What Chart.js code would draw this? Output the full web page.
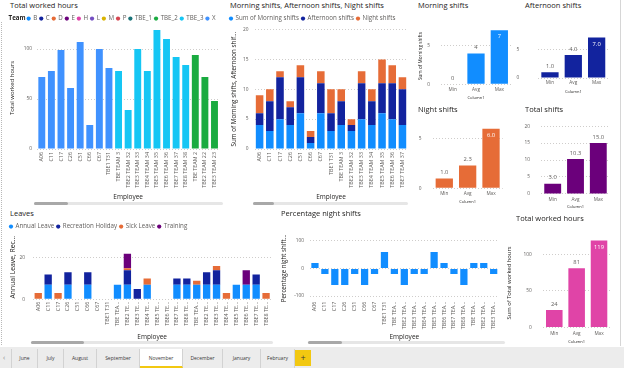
<!DOCTYPE html>
<html>
<head>
<meta charset="utf-8">
<script src="https://cdn.jsdelivr.net/npm/chart.js@4.4.1/dist/chart.umd.min.js"></script>
<style>
  html, body { margin:0; padding:0; background:#ffffff; }
  #page { position:relative; width:624px; height:368px; overflow:hidden; background:#ffffff; font-family:'Segoe UI','Open Sans',sans-serif; }
  #page canvas { position:absolute; }
  .ttl { position:absolute; font-size:7.5px; line-height:10px; height:10px; color:#252423; white-space:nowrap; }
  .sb { position:absolute; height:3px; background:#e6e6e6; border-radius:1.5px; }
  .sb b { position:absolute; left:0; top:0; height:3px; background:#a8a8a8; border-radius:1.5px; }
  #tabs { position:absolute; left:0; top:347px; width:624px; height:21px; background:#ececec; }
  .tab { position:absolute; top:2px; height:19px; line-height:18px; font-size:5px; color:#3b3a39; text-align:center; border-right:1px solid #d2d2d2; box-sizing:border-box; }
  .tab.on { background:#ffffff; border-bottom:2px solid #F2C811; }
  #plus { position:absolute; left:295px; top:3px; width:16px; height:16px; background:#F2C811; color:#3b3a39; font-size:9px; line-height:16px; text-align:center; }
  #arrow { position:absolute; left:3px; top:2px; height:19px; line-height:18px; font-size:7px; color:#888; }
  #leftline { position:absolute; left:1px; top:22px; width:0; height:323px; border-left:1px dotted #b8b8b8; }
  #rightline { position:absolute; left:620px; top:0px; width:0; height:346px; border-left:1px solid #d6d6d6; }
</style>
</head>
<body>
<div id="page">
  <div id="leftline"></div>
  <div id="rightline"></div>

  <canvas id="cHours" width="224" height="188" style="left:0px;top:13px"></canvas>
  <canvas id="cShifts" width="185" height="188" style="left:227px;top:13px"></canvas>
  <canvas id="cMorning" width="99" height="86" style="left:414px;top:14px"></canvas>
  <canvas id="cAfternoon" width="100" height="86" style="left:513px;top:14px"></canvas>
  <canvas id="cNight" width="100" height="91" style="left:412px;top:113px"></canvas>
  <canvas id="cTotalShifts" width="100" height="97" style="left:513px;top:112px"></canvas>
  <canvas id="cLeaves" width="268" height="120" style="left:7px;top:221px"></canvas>
  <canvas id="cPct" width="230" height="109" style="left:276px;top:232px"></canvas>
  <canvas id="cHoursStats" width="110" height="120" style="left:505px;top:224px"></canvas>

  <div class="ttl" style="left:10px;top:0px">Total worked hours</div>
  <div class="ttl" style="left:230px;top:0px">Morning shifts, Afternoon shifts, Night shifts</div>
  <div class="ttl" style="left:418px;top:0px">Morning shifts</div>
  <div class="ttl" style="left:525px;top:0px">Afternoon shifts</div>
  <div class="ttl" style="left:418px;top:104px">Night shifts</div>
  <div class="ttl" style="left:525px;top:104px">Total shifts</div>
  <div class="ttl" style="left:10px;top:208px;color:#252423">Leaves</div>
  <div class="ttl" style="left:281px;top:208px">Percentage night shifts</div>
  <div class="ttl" style="left:516px;top:213px">Total worked hours</div>

  <div class="sb" style="left:34px;top:202px;width:189px"><b style="width:34px"></b></div>
  <div class="sb" style="left:253px;top:202px;width:155px"><b style="width:21px"></b></div>
  <div class="sb" style="left:31px;top:341px;width:242px"><b style="width:53px"></b></div>
  <div class="sb" style="left:308px;top:341px;width:197px"><b style="width:34px"></b></div>

  <div id="tabs">
    <div id="arrow">&#8249;</div>
    <div class="tab" style="left:11px;width:27px;border-left:1px solid #d2d2d2">June</div>
    <div class="tab" style="left:38px;width:26px">July</div>
    <div class="tab" style="left:64px;width:33px">August</div>
    <div class="tab" style="left:97px;width:43px">September</div>
    <div class="tab on" style="left:140px;width:43px">November</div>
    <div class="tab" style="left:183px;width:40px">December</div>
    <div class="tab" style="left:223px;width:38px">January</div>
    <div class="tab" style="left:261px;width:34px">February</div>
    <div id="plus">+</div>
  </div>
</div>

<script>
// ---------------- data ----------------
const employees = ['A06','C11','C17','C26','C51','C66','C67','TBE1 T31','TBE TEAM 3','TBE2 TEAM 32','TBE3 TEAM 33','TBE4 TEAM 34','TBE5 TEAM 35','TBE6 TEAM 36','TBE7 TEAM 37','TBE8 TEAM 38','TBE TEAM 2','TBE2 TEAM 22','TBE3 TEAM 23'];
const employeeTeams = ['X','X','X','X','X','X','X','X','TBE_3','TBE_3','TBE_3','TBE_3','TBE_3','TBE_3','TBE_3','TBE_3','TBE_2','TBE_2','TBE_2'];
const totalWorkedHours = [72,78,99,61,107,24,100,81,78,39,100,78,119,110,92,84,94,72,48];
const teams = ['B','C','D','E','H','L','M','P','TBE_1','TBE_2','TBE_3','X'];

// visible (scrolled) part of the shifts visual
const shiftEmployees = employees.slice(0, 15);
const morningShifts   = [4,3,5,4,6,1,6,3,4,3,5,4,6,5,4];
const afternoonShifts = [2,5,7,3,6,1,5,3,4,1,6,4,5,6,6];
const nightShifts     = [3,2,1,1,2,1,2,4,2,1,2,2,4,3,2];

const statCategories   = ['Min','Avg','Max'];
const morningStats     = [0, 4, 7];
const afternoonStats   = [1, 4, 7];
const nightStats       = [1, 2.3, 6];
const totalShiftStats  = [3, 10.3, 15];
const workedHoursStats = [24, 81, 119];

const leaveEmployees    = employees.concat(['TBE4 TEAM 24','TBE5 TEAM 25','TBE6 TEAM 26','TBE7 TEAM 27','TBE8 TEAM 28']);
const annualLeave       = [0,7,0,7,0,7,0,0,7,7,0,7,0,0,7,7,7,7,7,0,7,7,7,0];
const recreationHoliday = [0,5,0,6,0,6,0,0,0,7,5,0,0,0,3,3,0,6,7,0,0,0,5,0];
const sickLeave         = [3,0,3,0,0,0,0,0,0,1,0,3,0,0,0,0,2,0,2,3,0,0,0,3];
const training          = [0,0,0,0,0,0,0,0,0,7,0,0,0,0,0,0,0,0,0,0,0,7,0,0];

const nightShiftPct = [20,-20,-60,-60,-20,-60,-20,60,-20,-60,-20,-20,60,20,-20,-60,20,20,-20];

// ---------------- styling ----------------
const FONT = "'Segoe UI','Open Sans',sans-serif";
const teamColors = ['#118DFF','#12239E','#E66C37','#6B007B','#E044A7','#744EC2','#D9B300','#D64550','#197278','#1AAB40','#15C6F4','#4092FF'];
const C_BLUE = '#118DFF', C_NAVY = '#12239E', C_ORANGE = '#E66C37', C_PURPLE = '#6B007B', C_PINK = '#E044A7';
const GRID = '#CFCDCB', TICK = '#605E5C', DARK = '#252423';
const LEG = 6.2, YT = 4.8, XR = 5.4, XC = 4.7, DL = 5.8;

Chart.defaults.font.family = FONT;
Chart.defaults.color = TICK;
Chart.defaults.animation = false;

const mctx = document.createElement('canvas').getContext('2d');
function shorten(labels, fontPx, ref) {
  mctx.font = fontPx + 'px ' + FONT;
  const budget = mctx.measureText(ref).width + 0.01;
  return labels.map(l => {
    if (mctx.measureText(l).width <= budget) return l;
    let t = l;
    while (t.length > 1 && mctx.measureText(t.trimEnd() + '...').width > budget) t = t.slice(0, -1);
    return t.trimEnd() + '...';
  });
}

const barLabels = {
  id: 'barLabels',
  afterDatasetsDraw(chart, args, opts) {
    if (!opts || !opts.format) return;
    const ctx = chart.ctx, area = chart.chartArea;
    const meta = chart.getDatasetMeta(0), ds = chart.data.datasets[0];
    ctx.save();
    ctx.font = DL + 'px ' + FONT;
    ctx.textAlign = 'center'; ctx.textBaseline = 'middle';
    meta.data.forEach((bar, i) => {
      const txt = opts.format(ds.data[i]);
      if (bar.y - 11 < area.top) { ctx.fillStyle = '#ffffff'; ctx.fillText(txt, bar.x, bar.y + 6.5); }
      else { ctx.fillStyle = TICK; ctx.fillText(txt, bar.x, bar.y - 6); }
    });
    ctx.restore();
  }
};

const legendLead = {
  id: 'legendLead',
  afterDraw(chart, args, opts) {
    if (!opts || !opts.text || !chart.legend || !chart.legend.legendHitBoxes.length) return;
    const hb = chart.legend.legendHitBoxes[0];
    const fs = opts.size, bw = opts.boxWidth;
    const ctx = chart.ctx;
    ctx.save();
    ctx.font = 'bold ' + fs + 'px ' + FONT;
    ctx.fillStyle = DARK; ctx.textBaseline = 'middle'; ctx.textAlign = 'left';
    ctx.fillText(opts.text, hb.left + bw + fs / 2, hb.top + fs / 2);
    ctx.restore();
  }
};

function yAxis(o) {
  return {
    stacked: !!o.stacked, min: o.min, max: o.max,
    ticks: { stepSize: o.step, includeBounds: false, padding: o.tickPad, font: { size: YT }, color: TICK },
    grid: { color: GRID, drawTicks: false, lineWidth: 1 },
    border: { display: false, dash: [1, 2] },
    title: { display: !!o.title, text: o.title || '', color: DARK, font: { size: o.titleSize || 6 }, padding: { top: o.titlePad || 0, bottom: 0 } },
    afterFit: s => { s.width = o.width; }
  };
}
function xAxis(o) {
  return {
    stacked: !!o.stacked,
    grid: { display: false, drawTicks: false }, border: { display: false },
    ticks: { autoSkip: false, maxRotation: o.rot, minRotation: o.rot, padding: o.tickPad, font: { size: o.tickSize }, color: TICK },
    title: { display: true, text: o.title, color: DARK, font: { size: o.titleSize }, padding: { top: 0, bottom: 0 } },
    afterFit: s => { s.height = o.height; }
  };
}
const legendLabels = { usePointStyle: true, pointStyle: 'circle', boxWidth: 3, boxHeight: 3, padding: 2.5, font: { size: LEG }, color: TICK };

// ---------------- Total worked hours by employee ----------------
new Chart(document.getElementById('cHours'), {
  type: 'bar',
  data: {
    labels: employees,
    datasets: teams.map((t, k) => ({
      label: t,
      data: totalWorkedHours.map((v, i) => employeeTeams[i] === t ? v : null),
      backgroundColor: teamColors[k], barPercentage: 0.72, categoryPercentage: 1
    }))
  },
  options: {
    responsive: false, animation: false, events: [],
    layout: { padding: { left: 0, right: 1, top: 0, bottom: 0 } },
    plugins: {
      tooltip: { enabled: false },
      legend: {
        position: 'top', align: 'start', maxHeight: 14,
        labels: Object.assign({}, legendLabels, {
          generateLabels: () => [{ text: 'Team', fillStyle: 'rgba(0,0,0,0)', strokeStyle: 'rgba(0,0,0,0)', lineWidth: 0, fontColor: 'rgba(0,0,0,0)', pointStyle: 'circle', hidden: false }]
            .concat(teams.map((t, k) => ({ text: t, fillStyle: teamColors[k], strokeStyle: teamColors[k], lineWidth: 0, fontColor: TICK, pointStyle: 'circle', hidden: false, datasetIndex: k })))
        })
      },
      legendLead: { text: 'Team', size: LEG, boxWidth: 3 }
    },
    scales: {
      x: xAxis({ stacked: true, rot: 90, tickPad: 3, tickSize: XR, title: 'Employee', titleSize: 6.5, height: 52 }),
      y: yAxis({ stacked: true, min: 0, max: 122, step: 50, tickPad: 5, width: 37, title: 'Total worked hours', titleSize: 6, titlePad: 8.4 })
    }
  },
  plugins: [legendLead]
});

// ---------------- Morning / Afternoon / Night shifts ----------------
new Chart(document.getElementById('cShifts'), {
  type: 'bar',
  data: {
    labels: shiftEmployees,
    datasets: [
      { label: 'Sum of Morning shifts', data: morningShifts, backgroundColor: C_BLUE },
      { label: 'Afternoon shifts', data: afternoonShifts, backgroundColor: C_NAVY },
      { label: 'Night shifts', data: nightShifts, backgroundColor: C_ORANGE }
    ].map(d => Object.assign(d, { barPercentage: 0.74, categoryPercentage: 1 }))
  },
  options: {
    responsive: false, animation: false, events: [],
    layout: { padding: { left: 0, right: 2.5, top: 0, bottom: 0 } },
    plugins: {
      tooltip: { enabled: false },
      legend: { position: 'top', align: 'start', maxHeight: 16.5, labels: legendLabels }
    },
    scales: {
      x: xAxis({ stacked: true, rot: 90, tickPad: 3, tickSize: XR, title: 'Employee', titleSize: 6.5, height: 52 }),
      y: yAxis({ stacked: true, min: 0, max: 20, step: 5, tickPad: 6, width: 27.5, title: 'Sum of Morning shifts, Afternoon shif\u2026', titleSize: 6.3, titlePad: 3.7 })
    }
  }
});

// ---------------- Min / Avg / Max cards ----------------
function statChart(id, values, color, o) {
  return new Chart(document.getElementById(id), {
    type: 'bar',
    data: { labels: statCategories, datasets: [{ data: values, backgroundColor: color, barPercentage: 0.74, categoryPercentage: 1 }] },
    options: {
      responsive: false, animation: false, events: [],
      layout: { padding: { top: o.padTop, right: o.padRight, left: 0, bottom: 0 } },
      plugins: { legend: { display: false }, tooltip: { enabled: false }, barLabels: { format: o.fmt } },
      scales: {
        x: xAxis({ rot: 0, tickPad: o.xPad, tickSize: XC, title: 'Column1', titleSize: 4, height: o.xH }),
        y: yAxis({ min: 0, max: o.max, step: o.step, tickPad: o.yPad, width: o.yW, title: o.yTitle, titleSize: o.yTitleSize, titlePad: o.yTitlePad })
      }
    },
    plugins: [barLabels]
  });
}
const fmt0 = v => String(v);
const fmt1 = v => v.toFixed(1);
statChart('cMorning', morningStats, C_BLUE, { padTop: 8, padRight: 2, max: 7.3, step: 5, yW: 27, yPad: 11, xH: 15.7, xPad: 2.2, fmt: fmt0, yTitle: 'Sum of Morning shifts', yTitleSize: 4.7, yTitlePad: 4.2 });
statChart('cAfternoon', afternoonStats, C_NAVY, { padTop: 8, padRight: 4.7, max: 7.3, step: 5, yW: 25.3, yPad: 19, xH: 15.7, xPad: 2.2, fmt: fmt1 });
statChart('cNight', nightStats, C_ORANGE, { padTop: 4, padRight: 9.3, max: 6.2, step: 5, yW: 20.6, yPad: 11, xH: 15.7, xPad: 2.9, fmt: fmt1 });
statChart('cTotalShifts', totalShiftStats, C_PURPLE, { padTop: 7.3, padRight: 3.3, max: 20, step: 5, yW: 28.3, yPad: 11.3, xH: 15.1, xPad: 2.5, fmt: fmt1 });
statChart('cHoursStats', workedHoursStats, C_PINK, { padTop: 4, padRight: 4.8, max: 122, step: 50, yW: 38.1, yPad: 11.4, xH: 16.4, xPad: 2.8, fmt: fmt0, yTitle: 'Sum of Total worked hours', yTitleSize: 5.8, yTitlePad: 0.5 });

// ---------------- Leaves ----------------
new Chart(document.getElementById('cLeaves'), {
  type: 'bar',
  data: {
    labels: shorten(leaveEmployees, XR, 'TBE TEA...'),
    datasets: [
      { label: 'Annual Leave', data: annualLeave, backgroundColor: C_BLUE },
      { label: 'Recreation Holiday', data: recreationHoliday, backgroundColor: C_NAVY },
      { label: 'Sick Leave', data: sickLeave, backgroundColor: C_ORANGE },
      { label: 'Training', data: training, backgroundColor: C_PURPLE }
    ].map(d => Object.assign(d, { barPercentage: 0.74, categoryPercentage: 1 }))
  },
  options: {
    responsive: false, animation: false, events: [],
    layout: { padding: { left: 0, right: 2.7, top: 0, bottom: 0 } },
    plugins: {
      tooltip: { enabled: false },
      legend: { position: 'top', align: 'start', maxHeight: 14, labels: legendLabels }
    },
    scales: {
      x: xAxis({ stacked: true, rot: 90, tickPad: 2.4, tickSize: XR, title: 'Employee', titleSize: 6.5, height: 41.7 }),
      y: yAxis({ stacked: true, min: 0, max: 31, step: 20, tickPad: 8.3, width: 26.3, title: 'Annual Leave, Rec...', titleSize: 6.8, titlePad: 1.9 })
    }
  }
});

// ---------------- Percentage night shifts ----------------
new Chart(document.getElementById('cPct'), {
  type: 'bar',
  data: {
    labels: shorten(employees, XR, 'TBE2 TEA...'),
    datasets: [{ label: 'Percentage night shifts', data: nightShiftPct, backgroundColor: C_BLUE, barPercentage: 0.73, categoryPercentage: 1 }]
  },
  options: {
    responsive: false, animation: false, events: [],
    layout: { padding: { left: 0, right: 5.3, top: 6.7, bottom: 0 } },
    plugins: { tooltip: { enabled: false }, legend: { display: false } },
    scales: {
      x: xAxis({ rot: 90, tickPad: 5.7, tickSize: XR, title: 'Employee', titleSize: 6.5, height: 45 }),
      y: yAxis({ min: -100, max: 100, step: 100, tickPad: 6, width: 34, title: 'Percentage night shift\u2026', titleSize: 6.2, titlePad: 4.3 })
    }
  }
});
</script>
</body>
</html>
